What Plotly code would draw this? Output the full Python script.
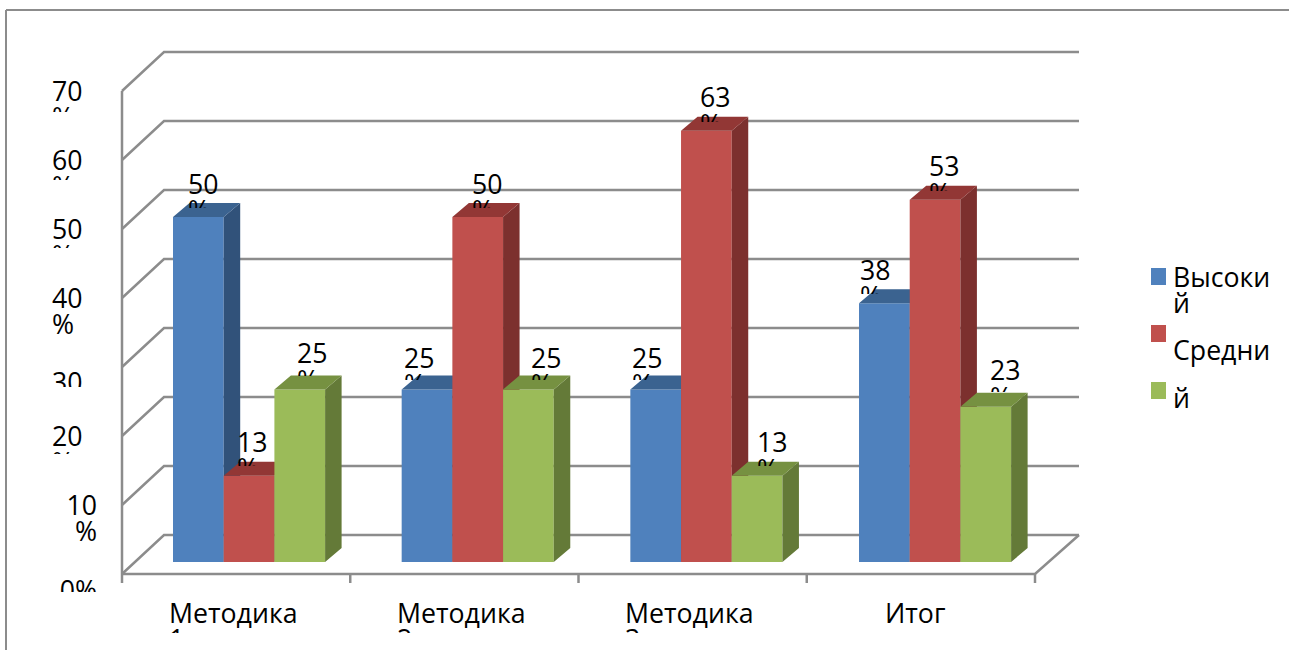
import plotly.graph_objects as go

# ---------- data ----------
categories = ["Методика 1", "Методика 2", "Методика 3", "Итог"]
high_values = [50, 25, 25, 37.5]
mid_values = [12.5, 50, 62.5, 52.5]
third_values = [25, 25, 12.5, 22.5]
high_labels = ["50", "25", "25", "38"]
mid_labels = ["13", "50", "63", "53"]
third_labels = ["25", "25", "13", "23"]
y_ticks = [70, 60, 50, 40, 30, 20, 10, 0]
legend_entries = [["Высоки", "й"], ["Средни"], ["й"]]

# ---------- style / layout constants ----------
W, H = 1289, 650
X0_PX, UNIT_X = 122, 228.25
Y0_PX, UNIT_Y = 574, 6.9
FONT = "Open Sans"
FS = 26.7
LINE = 26.5
TEXT_DROP = 3
GRID = "#8c8c8c"
series_colors = [
    ("#4F81BD", "#3B6390", "#31527A"),
    ("#C0504D", "#923735", "#7C302E"),
    ("#9BBB59", "#769141", "#647A38"),
]
XR = [(0 - X0_PX) / UNIT_X, (W - X0_PX) / UNIT_X]
YTOP = Y0_PX / UNIT_Y


def dx(px):
    return px / UNIT_X


def dy(px):
    return px / UNIT_Y


def vy(py):
    return (Y0_PX - py) / UNIT_Y


def vx(px):
    return (px - X0_PX) / UNIT_X


BAR_W = 50.7 / UNIT_X
BASE = dy(12)
DEPTH_X, DEPTH_Y = dx(16.5), dy(14)
WALL_X, WALL_Y = dx(42), dy(39)
WALL_X_RIGHT = dx(44)
GROUP_START = dx(51)
GROUP_PITCH = dx(228.67)

fig = go.Figure()
axes = {}
n_axes = [0]


def new_subplot(clip_px=None):
    n_axes[0] += 1
    n = n_axes[0]
    cp = H if clip_px is None else clip_px
    s = "" if n == 1 else str(n)
    axes["xaxis" + s] = dict(domain=[0, 1], range=XR, visible=False, anchor="y" + s, fixedrange=True)
    axes["yaxis" + s] = dict(domain=[1 - cp / H, 1], range=[vy(cp), YTOP], visible=False,
                             anchor="x" + s, fixedrange=True)
    return "x" + s, "y" + s


def add_text(ax, x, y, text, pos="middle right"):
    fig.add_trace(go.Scatter(x=x, y=[v - dy(TEXT_DROP) for v in y], text=text, mode="text",
                             textposition=pos, cliponaxis=True,
                             textfont=dict(family=FONT, size=FS, color="#000000"),
                             showlegend=False, hoverinfo="skip", xaxis=ax[0], yaxis=ax[1]))


# ---------- walls, floor and gridlines ----------
ax = new_subplot()
gx, gy = [], []
for v in y_ticks:
    gx += [0, WALL_X, 4 + WALL_X_RIGHT, None]
    gy += [v, v + WALL_Y, v + WALL_Y, None]
gx += [0, 0, None, 0, 4, 4 + WALL_X_RIGHT, None]
gy += [y_ticks[0], 0, None, 0, 0, WALL_Y, None]
for i in range(len(categories) + 1):
    gx += [i, i, None]
    gy += [0, -dy(9), None]
fig.add_trace(go.Scatter(x=gx, y=gy, mode="lines", line=dict(color=GRID, width=2.5),
                         showlegend=False, hoverinfo="skip", xaxis=ax[0], yaxis=ax[1]))

# ---------- 3-D bars: one subplot layer per series so later series overlap earlier ----------
all_values = [high_values, mid_values, third_values]
names = ["Высокий", "Средний", ""]
for s, values in enumerate(all_values):
    ax = new_subplot()
    front, top, side = series_colors[s]
    lefts = [GROUP_START + i * GROUP_PITCH + s * BAR_W for i in range(len(categories))]
    fig.add_trace(go.Bar(x=[l + BAR_W / 2 for l in lefts], y=values, base=BASE, width=BAR_W,
                         marker=dict(color=front, line=dict(width=0)), name=names[s], showlegend=False,
                         hoverinfo="skip", xaxis=ax[0], yaxis=ax[1]))
    tx, ty, sx, sy = [], [], [], []
    for l, v in zip(lefts, values):
        t = v + BASE
        tx += [l, l + BAR_W, l + BAR_W + DEPTH_X, l + DEPTH_X, l, None]
        ty += [t, t, t + DEPTH_Y, t + DEPTH_Y, t, None]
        r = l + BAR_W
        sx += [r, r + DEPTH_X, r + DEPTH_X, r, r, None]
        sy += [BASE, BASE + DEPTH_Y, t + DEPTH_Y, t, BASE, None]
    for xs, ys, col in ((sx, sy, side), (tx, ty, top)):
        fig.add_trace(go.Scatter(x=xs, y=ys, mode="lines", fill="toself", fillcolor=col,
                                 line=dict(width=0, color=col), showlegend=False, hoverinfo="skip",
                                 xaxis=ax[0], yaxis=ax[1]))

# ---------- data labels, each clipped just under its first line ----------
label_left_px = [
    [188, 404, 632, 860],
    [237, 472, 700, 929],
    [297, 531, 757, 990],
]
label_lift_px = [
    [33, 31.5, 31.5, 33],
    [33.5, 33, 33, 33],
    [36, 31.5, 33, 36],
]
label_clip_px = [
    [9, 9, 9, 9],
    [10, 9, 9, 9],
    [14, 9, 10, 15],
]
all_labels = [high_labels, mid_labels, third_labels]
for s, (values, labels) in enumerate(zip(all_values, all_labels)):
    for i, (v, lab) in enumerate(zip(values, labels)):
        top_px = Y0_PX - (v + BASE) * UNIT_Y
        ax = new_subplot(round(top_px - label_clip_px[s][i]))
        x = vx(label_left_px[s][i])
        lift = label_lift_px[s][i]
        add_text(ax, [x, x], [v + BASE + dy(lift), v + BASE + dy(lift - LINE)], [lab, "%"])

# ---------- value axis labels ----------
tick_clip = {70: 112, 60: 180, 50: 248, 40: None, 30: 387, 20: 454, 10: None, 0: 592}
tick_shift = {70: 0, 60: 0, 50: 0, 40: 0, 30: 15, 20: 0, 10: 0, 0: 16}
for v in y_ticks:
    ax = new_subplot(tick_clip[v])
    c = v - dy(tick_shift[v])
    if v == 0:
        add_text(ax, [vx(97)], [c], ["0%"], "middle left")
    elif v == 10:
        add_text(ax, [vx(97), vx(97)], [c, c - dy(LINE)], ["10", "%"], "middle left")
    else:
        add_text(ax, [vx(52), vx(52)], [c, c - dy(LINE)], [str(v), "%"])

# ---------- category labels ----------
ax = new_subplot(633)
cat_left_px = [169, 397, 625, 885]
cx, cy, ct = [], [], []
for name, left in zip(categories, cat_left_px):
    for j, part in enumerate(name.split(" ")):
        cx.append(vx(left))
        cy.append(vy(613 + j * LINE))
        ct.append(part)
add_text(ax, cx, cy, ct)

# ---------- legend ----------
shapes = [dict(type="line", xref="paper", yref="paper", x0=6 / W, x1=6 / W, y0=0, y1=1 - 10 / H,
               line=dict(color=GRID, width=2)),
          dict(type="line", xref="paper", yref="paper", x0=6 / W, x1=1, y0=1 - 10 / H, y1=1 - 10 / H,
               line=dict(color=GRID, width=2))]
swatch_top_px = [268, 325, 382]
for (front, _, _), t in zip(series_colors, swatch_top_px):
    shapes.append(dict(type="rect", xref="paper", yref="paper", x0=1151 / W, x1=1166 / W,
                       y0=1 - (t + 17) / H, y1=1 - t / H, fillcolor=front, line=dict(width=0)))
legend_text_px = [[276, 302], [349], [397]]
annotations = []
for lines, ys in zip(legend_entries, legend_text_px):
    for line, y in zip(lines, ys):
        annotations.append(dict(text=line, xref="paper", yref="paper", x=1172 / W, y=1 - y / H,
                                xanchor="left", yanchor="middle", showarrow=False,
                                font=dict(family=FONT, size=FS, color="#000000"), borderpad=0))

fig.update_layout(width=W, height=H, margin=dict(l=0, r=0, t=0, b=0), autosize=False,
                  paper_bgcolor="#ffffff", plot_bgcolor="rgba(0,0,0,0)", barmode="overlay",
                  showlegend=False, shapes=shapes, annotations=annotations, **axes)
fig.write_html("out.html", config={"displayModeBar": False},
               post_script="document.body.style.margin='0';document.body.style.overflow='hidden';")
